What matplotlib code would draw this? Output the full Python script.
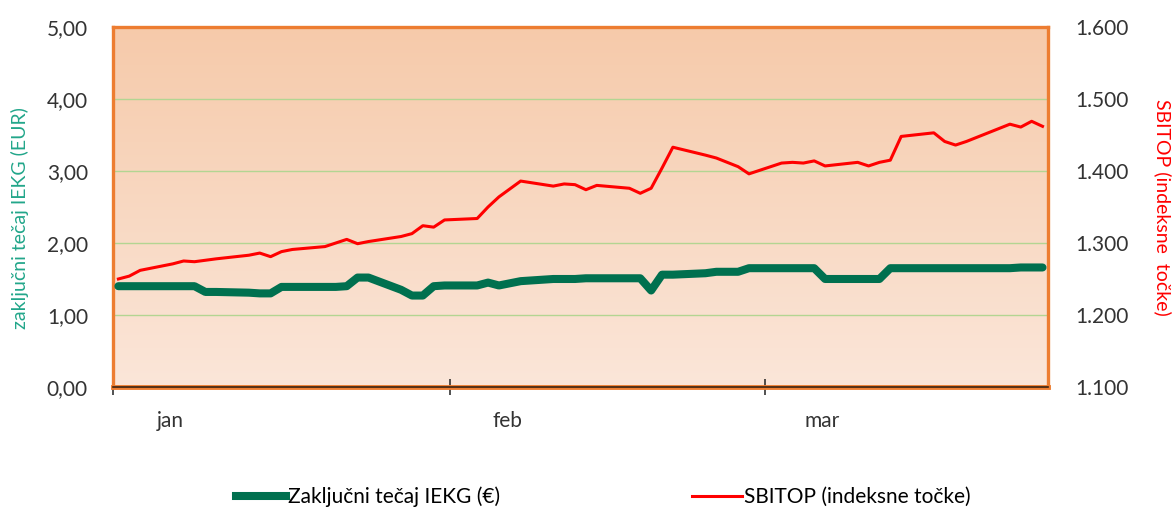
import matplotlib
matplotlib.use("Agg")
import matplotlib.pyplot as plt
from matplotlib.colors import LinearSegmentedColormap
from matplotlib.lines import Line2D
import numpy as np
import pandas as pd

plt.rcParams['font.family'] = ['Lato', 'DejaVu Sans']

# trading days, Ljubljana stock exchange, Q1 2024
dates = [
    "2024-01-03", "2024-01-04", "2024-01-05", "2024-01-08", "2024-01-09", "2024-01-10",
    "2024-01-11", "2024-01-12", "2024-01-15", "2024-01-16", "2024-01-17", "2024-01-18",
    "2024-01-19", "2024-01-22", "2024-01-23", "2024-01-24", "2024-01-25", "2024-01-26",
    "2024-01-29", "2024-01-30", "2024-01-31",
    "2024-02-01", "2024-02-02", "2024-02-05", "2024-02-06", "2024-02-07", "2024-02-09",
    "2024-02-12", "2024-02-13", "2024-02-14", "2024-02-15", "2024-02-16", "2024-02-19",
    "2024-02-20", "2024-02-21", "2024-02-22", "2024-02-23", "2024-02-26", "2024-02-27",
    "2024-02-28", "2024-02-29",
    "2024-03-01", "2024-03-04", "2024-03-05", "2024-03-06", "2024-03-07", "2024-03-08",
    "2024-03-11", "2024-03-12", "2024-03-13", "2024-03-14", "2024-03-15", "2024-03-18",
    "2024-03-19", "2024-03-20", "2024-03-21", "2024-03-22", "2024-03-25", "2024-03-26",
    "2024-03-27", "2024-03-28",
]

# closing price IEKG (EUR)
iekg = [
    1.40, 1.40, 1.40, 1.40, 1.40, 1.40, 1.32, 1.32, 1.31, 1.30, 1.30, 1.39,
    1.39, 1.39, 1.39, 1.40, 1.52, 1.52, 1.35, 1.27, 1.27,
    1.40, 1.41, 1.41, 1.45, 1.41, 1.47, 1.50, 1.50, 1.50, 1.51, 1.51, 1.51,
    1.51, 1.34, 1.56, 1.56, 1.58, 1.60, 1.60, 1.60,
    1.65, 1.65, 1.65, 1.65, 1.65, 1.50, 1.50, 1.50, 1.50, 1.65, 1.65, 1.65,
    1.65, 1.65, 1.65, 1.65, 1.65, 1.66, 1.66, 1.66,
]

# SBITOP index points
sbitop = [
    1250, 1254, 1262, 1271, 1275, 1274, 1276, 1278, 1283, 1286, 1281, 1288,
    1291, 1295, 1300, 1305, 1299, 1302, 1309, 1313, 1324,
    1322, 1332, 1334, 1350, 1364, 1386, 1379, 1382, 1381, 1374, 1380, 1376,
    1369, 1376, 1404, 1433, 1422, 1418, 1412, 1406,
    1396, 1411, 1412, 1411, 1414, 1407, 1412, 1407, 1412, 1415, 1448, 1453,
    1441, 1436, 1441, 1447, 1465, 1461, 1469, 1462,
]

month_labels = ['jan', 'feb', 'mar']
left_ticks = [0, 1, 2, 3, 4, 5]
right_ticks = [1100, 1200, 1300, 1400, 1500, 1600]

x = pd.to_datetime(dates)
half_day = pd.Timedelta(hours=12)

fig = plt.figure(figsize=(11.73, 5.08), dpi=100)
rect = [0.0963, 0.2382, 0.7971, 0.7087]

# gradient background behind the plot area
bg = fig.add_axes(rect, zorder=0)
cmap = LinearSegmentedColormap.from_list('bg', ['#FBE6D9', '#F6CAAA'])
bg.imshow(np.linspace(0, 1, 256).reshape(-1, 1), cmap=cmap, aspect='auto',
          origin='lower', extent=[0, 1, 0, 1])
bg.axis('off')

ax = fig.add_axes(rect)
ax2 = ax.twinx()
ax.set_zorder(1)
ax2.set_zorder(2)
ax.patch.set_visible(False)
ax2.patch.set_visible(False)

ax.plot(x, iekg, color='#00704F', lw=5.8, solid_joinstyle='round',
        solid_capstyle='round', zorder=3)
ax2.plot(x, sbitop, color='#FF0000', lw=2.2, zorder=3)

ax.set_xlim(x[0] - half_day, x[-1] + half_day)
ax.set_ylim(0, 5)
ax2.set_ylim(1100, 1600)

ax.set_yticks(left_ticks, labels=[f"{v:.2f}".replace('.', ',') for v in left_ticks])
ax2.set_yticks(right_ticks, labels=[f"{v:,}".replace(',', '.') for v in right_ticks])

# month boundaries carry the tick marks, the labels sit a little to the right
month_ticks = [x[0] - half_day + pd.DateOffset(months=k) for k in range(len(month_labels))]
ax.set_xticks(month_ticks, labels=[''] * len(month_ticks))
ax.set_xticks([t + pd.Timedelta(days=5.25) for t in month_ticks], labels=month_labels,
              minor=True)

ax.yaxis.grid(True, color='#B3D592', lw=1)
ax.set_axisbelow(True)

ax.tick_params(axis='y', length=0, pad=18, labelsize=15, labelcolor='#333333')
ax2.tick_params(axis='y', length=0, pad=19.5, labelsize=15, labelcolor='#333333')
ax.tick_params(axis='x', which='major', direction='inout', length=11, width=1.1,
               color='#222222')
ax.tick_params(axis='x', which='minor', length=0, pad=17, labelsize=15,
               labelcolor='#333333')

# frame
for side in ['left', 'right', 'top', 'bottom']:
    ax.spines[side].set_color('#ED7D31')
    ax.spines[side].set_linewidth(2.4)
ax.spines['bottom'].set_linewidth(3.5)
for side in ax2.spines:
    ax2.spines[side].set_visible(False)
ax.axhline(0, color='#3b2412', lw=1.2, clip_on=False, zorder=5)

ax.set_ylabel('zaključni tečaj IEKG (EUR)', color='#22A68A', fontsize=14, va='center')
ax.yaxis.set_label_coords(-0.0995, 0.47)
ax2.set_ylabel('SBITOP (indeksne  točke)', color='#FF0000', fontsize=14,
               rotation=-90, va='center')
ax2.yaxis.set_label_coords(1.123, 0.50)

handles = [Line2D([], [], color='#00704F', lw=5.8),
           Line2D([], [], color='#FF0000', lw=2.2)]
fig.legend(handles, ['Zaključni tečaj IEKG (€)', 'SBITOP (indeksne točke)'],
           loc='center', bbox_to_anchor=(0.514, 0.022), ncol=2, frameon=False,
           handlelength=2.4, handletextpad=0.1, columnspacing=9.2, fontsize=15)

fig.savefig('out.png', dpi=100)
